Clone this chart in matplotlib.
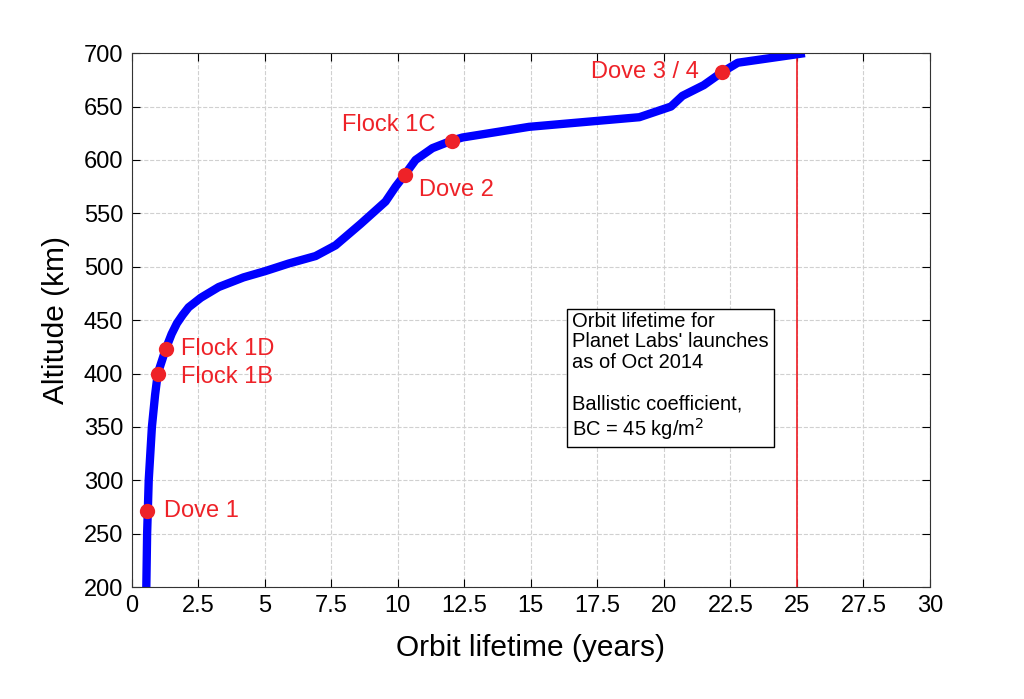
import matplotlib
matplotlib.use("Agg")
import matplotlib.pyplot as plt

plt.rcParams["font.family"] = ["Liberation Sans", "DejaVu Sans"]

# orbit lifetime curve (years vs km)
life_yr = [0.55, 0.58, 0.64, 0.76, 0.88, 0.98, 1.28, 1.50, 1.70, 1.92, 2.14, 2.60, 3.27,
           4.2, 5.03, 5.9, 6.91, 7.66, 8.6, 9.54, 9.92, 10.26, 10.67, 11.3, 12.02,
           12.43, 14.94, 19.08, 20.27, 20.7, 21.5, 22.18, 22.78, 25.3]
alt_km = [200, 250, 300, 350, 380, 400, 423, 437, 447, 455, 462, 471, 481,
          490, 496, 503, 510, 520, 540, 561, 575, 586, 600, 611, 618,
          621, 631, 640, 650, 660, 670, 682, 691, 700]

# launches
launch_names = ["Dove 1", "Flock 1B", "Flock 1D", "Dove 2", "Flock 1C", "Dove 3 / 4"]
launch_yr = [0.58, 0.98, 1.28, 10.26, 12.02, 22.18]
launch_km = [271, 400, 423, 586, 618, 682]
label_xy = [(1.2, 271), (1.85, 397), (1.85, 423), (10.8, 572), (7.9, 633), (17.25, 682)]

limit_yr = 25

fig = plt.figure(figsize=(10.24, 6.99), dpi=100)
ax = fig.add_axes([0.1286, 0.160, 0.7795, 0.764])

ax.plot(life_yr, alt_km, color="#0000ff", lw=6, solid_capstyle="butt",
        solid_joinstyle="round", zorder=2)
ax.axvline(limit_yr, color="#ee1c24", lw=1.2, zorder=1)
ax.plot(launch_yr, launch_km, "o", color="#ee2228", ms=11, mec="none", zorder=3)
for name, (tx, ty) in zip(launch_names, label_xy):
    ax.text(tx, ty, name, color="#ee2228", fontsize=17, ha="left", va="center")

ax.text(16.55, 397,
        "Orbit lifetime for\nPlanet Labs' launches\nas of Oct 2014\n\n"
        "Ballistic coefficient,\nBC = 45 kg/m$^2$",
        fontsize=14.5, ha="left", va="center", linespacing=1.12,
        bbox=dict(boxstyle="square,pad=0.25", fc="white", ec="black", lw=1))

ax.set_xlim(0, 30)
ax.set_ylim(200, 700)
ax.set_xticks([i * 2.5 for i in range(13)])
ax.set_xticklabels(["0", "2.5", "5", "7.5", "10", "12.5", "15", "17.5", "20",
                    "22.5", "25", "27.5", "30"])
ax.set_yticks(range(200, 701, 50))
ax.tick_params(direction="in", top=True, right=True, labelsize=17, length=6, pad=6)
ax.grid(True, ls="--", color="#d0d0d0", lw=0.8)
ax.set_axisbelow(True)
for s in ax.spines.values():
    s.set_color("#333333")

ax.set_xlabel("Orbit lifetime (years)", fontsize=21.5, labelpad=12)
ax.set_ylabel("Altitude (km)", fontsize=21.5, labelpad=10)

fig.savefig("out.png", dpi=100)
